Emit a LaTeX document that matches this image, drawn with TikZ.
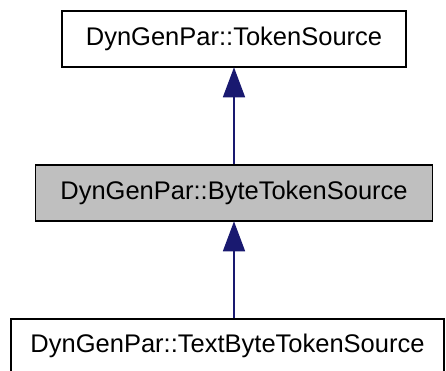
\documentclass[tikz,border=0pt]{standalone}
\usepackage{fontspec}
\setmainfont{Liberation Sans}
\usetikzlibrary{arrows.meta}
\definecolor{edgeblue}{HTML}{191970}
\definecolor{basegray}{HTML}{BFBFBF}
\begin{document}
\begin{tikzpicture}[x=1pt,y=-1pt,
  classbox/.style={draw=black, line width=1.6pt, inner sep=0pt, font=\fontsize{25.5}{30}\selectfont},
  inherit/.style={draw=edgeblue, line width=1.6pt, -{Triangle[width=22pt,length=30pt]}, shorten >=-0.5pt}]
  \useasboundingbox (0,0) rectangle (446,370);
  \node[classbox, minimum width=344pt, minimum height=56pt] (tok) at (234,39) {DynGenPar::TokenSource};
  \node[classbox, fill=basegray, minimum width=397pt, minimum height=56pt] (byte) at (234,193) {DynGenPar::ByteTokenSource};
  \node[classbox, minimum width=433pt, minimum height=54pt] (text) at (227.5,346) {DynGenPar::TextByteTokenSource};
  \draw[inherit] (byte.north -| tok.south) -- (tok.south);
  \draw[inherit] (text.north -| byte.south) -- (byte.south);
\end{tikzpicture}
\end{document}
